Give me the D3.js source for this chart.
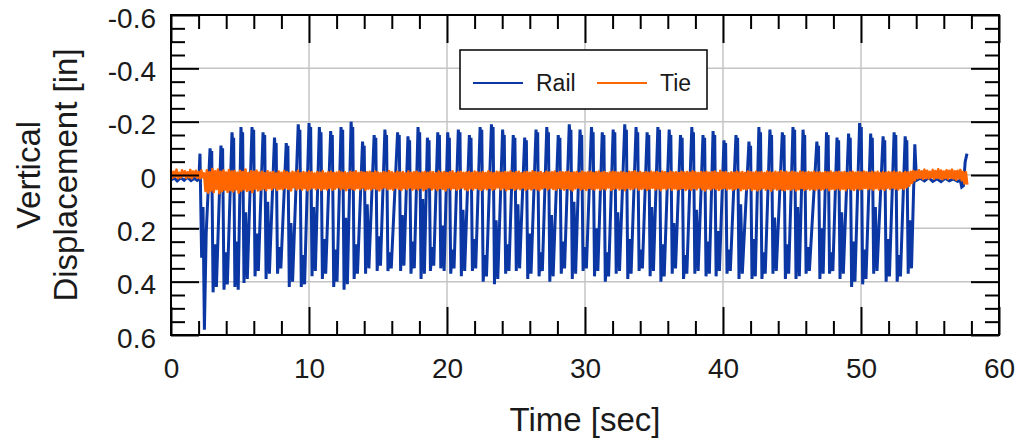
<!DOCTYPE html>
<html>
<head>
<meta charset="utf-8">
<script src="https://cdn.jsdelivr.net/npm/d3@7"></script>
<style>
  html, body { margin: 0; padding: 0; background: #fff; }
  svg { display: block; font-family: "Liberation Sans", Arial, sans-serif; }
</style>
</head>
<body>
<svg id="chart" width="1020" height="444"></svg>
<script>
// Axis ticks and labels
const xMajorTicks = [0, 10, 20, 30, 40, 50, 60];
const xTickLabels = ["0", "10", "20", "30", "40", "50", "60"];
const xMinorTicks = [2, 4, 6, 8, 12, 14, 16, 18, 22, 24, 26, 28, 32, 34, 36, 38, 42, 44, 46, 48, 52, 54, 56, 58];
const yMajorTicks = [-0.6, -0.4, -0.2, 0, 0.2, 0.4, 0.6];
const yTickLabels = ["-0.6", "-0.4", "-0.2", "0", "0.2", "0.4", "0.6"];
const yMinorTicks = [-0.55, -0.5, -0.45, -0.35, -0.3, -0.25, -0.15, -0.1, -0.05, 0.05, 0.1, 0.15, 0.25, 0.3, 0.35, 0.45, 0.5, 0.55];

const seriesNames = ["Rail", "Tie"];

// Rail displacement [in] before the train arrives: [time s, value]
const railLead = [
  [0, 0.018], [0.25, 0.012], [0.45, 0.022], [0.7, 0.01], [0.95, 0.02], [1.2, 0.008],
  [1.45, 0.021], [1.7, 0.012], [1.9, 0.02], [2.02, 0.015], [2.10, -0.08], [2.22, 0.31],
  [2.32, 0.12], [2.42, 0.58], [2.55, 0.22]
];

// Rail displacement per car passage (time s, value pairs):
// uplift peak, shoulder dip, second peak, first trough, rebound, second trough
const railCars = [
  [2.83, -0.10, 2.89, -0.06, 2.95, -0.09, 3.05, 0.44, 3.17, 0.26, 3.29, 0.42],
  [3.62, -0.11, 3.68, -0.07, 3.74, -0.10, 3.84, 0.43, 3.96, 0.29, 4.08, 0.41],
  [4.42, -0.16, 4.48, -0.11, 4.54, -0.14, 4.63, 0.42, 4.75, 0.25, 4.87, 0.43],
  [5.07, -0.18, 5.13, -0.12, 5.19, -0.16, 5.29, 0.405, 5.41, 0.14, 5.53, 0.39],
  [5.87, -0.18, 5.93, -0.13, 5.99, -0.17, 6.09, 0.38, 6.21, 0.22, 6.33, 0.36],
  [6.67, -0.16, 6.73, -0.10, 6.79, -0.15, 6.89, 0.39, 7.01, 0.10, 7.13, 0.37],
  [7.50, -0.14, 7.56, -0.09, 7.62, -0.12, 7.72, 0.37, 7.84, 0.27, 7.96, 0.35],
  [8.35, -0.12, 8.41, -0.08, 8.47, -0.11, 8.57, 0.42, 8.69, 0.18, 8.81, 0.40],
  [9.22, -0.19, 9.28, -0.13, 9.34, -0.17, 9.44, 0.42, 9.56, 0.30, 9.68, 0.41],
  [10.00, -0.195, 10.06, -0.14, 10.12, -0.18, 10.22, 0.38, 10.34, 0.12, 10.46, 0.36],
  [10.75, -0.18, 10.81, -0.12, 10.87, -0.16, 10.97, 0.39, 11.09, 0.24, 11.21, 0.37],
  [11.57, -0.165, 11.63, -0.11, 11.69, -0.15, 11.79, 0.42, 11.91, 0.28, 12.03, 0.40],
  [12.32, -0.18, 12.38, -0.13, 12.44, -0.17, 12.54, 0.43, 12.66, 0.16, 12.78, 0.41],
  [13.05, -0.20, 13.11, -0.14, 13.17, -0.18, 13.27, 0.39, 13.39, 0.26, 13.51, 0.37],
  [13.88, -0.125, 13.94, -0.08, 14.00, -0.11, 14.10, 0.37, 14.22, 0.11, 14.34, 0.35],
  [14.72, -0.15, 14.78, -0.10, 14.84, -0.14, 14.94, 0.36, 15.06, 0.23, 15.18, 0.34],
  [15.50, -0.17, 15.56, -0.12, 15.62, -0.15, 15.72, 0.36, 15.84, 0.29, 15.96, 0.35],
  [16.42, -0.16, 16.48, -0.11, 16.54, -0.15, 16.64, 0.36, 16.76, 0.15, 16.88, 0.34],
  [17.17, -0.145, 17.23, -0.10, 17.29, -0.13, 17.39, 0.37, 17.51, 0.25, 17.63, 0.35],
  [17.90, -0.18, 17.96, -0.12, 18.02, -0.16, 18.12, 0.39, 18.24, 0.09, 18.36, 0.37],
  [18.58, -0.14, 18.64, -0.09, 18.70, -0.13, 18.80, 0.36, 18.92, 0.27, 19.04, 0.34],
  [19.33, -0.16, 19.39, -0.11, 19.45, -0.15, 19.55, 0.35, 19.67, 0.19, 19.79, 0.36],
  [20.05, -0.16, 20.11, -0.11, 20.17, -0.14, 20.27, 0.37, 20.39, 0.28, 20.51, 0.35],
  [20.82, -0.17, 20.88, -0.12, 20.94, -0.16, 21.04, 0.38, 21.16, 0.13, 21.28, 0.36],
  [21.62, -0.15, 21.68, -0.10, 21.74, -0.14, 21.84, 0.36, 21.96, 0.24, 22.08, 0.35],
  [22.40, -0.18, 22.46, -0.13, 22.52, -0.17, 22.62, 0.40, 22.74, 0.30, 22.86, 0.38],
  [23.22, -0.19, 23.28, -0.13, 23.34, -0.18, 23.44, 0.41, 23.56, 0.17, 23.68, 0.39],
  [24.03, -0.17, 24.09, -0.12, 24.15, -0.15, 24.25, 0.37, 24.37, 0.26, 24.49, 0.36],
  [24.80, -0.15, 24.86, -0.10, 24.92, -0.14, 25.02, 0.36, 25.14, 0.11, 25.26, 0.35],
  [25.63, -0.14, 25.69, -0.09, 25.75, -0.13, 25.85, 0.39, 25.97, 0.22, 26.09, 0.37],
  [26.45, -0.17, 26.51, -0.12, 26.57, -0.16, 26.67, 0.38, 26.79, 0.29, 26.91, 0.36],
  [27.23, -0.18, 27.29, -0.13, 27.35, -0.16, 27.45, 0.40, 27.57, 0.15, 27.69, 0.38],
  [28.06, -0.15, 28.12, -0.10, 28.18, -0.14, 28.28, 0.37, 28.40, 0.25, 28.52, 0.35],
  [28.86, -0.19, 28.92, -0.14, 28.98, -0.17, 29.08, 0.39, 29.20, 0.10, 29.32, 0.37],
  [29.64, -0.17, 29.70, -0.11, 29.76, -0.15, 29.86, 0.36, 29.98, 0.27, 30.10, 0.35],
  [30.47, -0.18, 30.53, -0.13, 30.59, -0.16, 30.69, 0.38, 30.81, 0.20, 30.93, 0.36],
  [31.25, -0.16, 31.31, -0.11, 31.37, -0.15, 31.47, 0.40, 31.59, 0.29, 31.71, 0.38],
  [32.04, -0.17, 32.10, -0.12, 32.16, -0.16, 32.26, 0.37, 32.38, 0.14, 32.50, 0.36],
  [32.88, -0.19, 32.94, -0.13, 33.00, -0.17, 33.10, 0.39, 33.22, 0.24, 33.34, 0.37],
  [33.70, -0.18, 33.76, -0.12, 33.82, -0.16, 33.92, 0.36, 34.04, 0.28, 34.16, 0.35],
  [34.50, -0.16, 34.56, -0.11, 34.62, -0.15, 34.72, 0.38, 34.84, 0.12, 34.96, 0.36],
  [35.28, -0.18, 35.34, -0.13, 35.40, -0.17, 35.50, 0.40, 35.62, 0.26, 35.74, 0.38],
  [36.10, -0.17, 36.16, -0.11, 36.22, -0.15, 36.32, 0.37, 36.44, 0.18, 36.56, 0.35],
  [36.92, -0.15, 36.98, -0.10, 37.04, -0.14, 37.14, 0.39, 37.26, 0.30, 37.38, 0.37],
  [37.74, -0.18, 37.80, -0.12, 37.86, -0.16, 37.96, 0.37, 38.08, 0.13, 38.20, 0.36],
  [38.55, -0.15, 38.61, -0.10, 38.67, -0.14, 38.77, 0.38, 38.89, 0.25, 39.01, 0.37],
  [39.28, -0.165, 39.34, -0.11, 39.40, -0.15, 39.50, 0.38, 39.62, 0.21, 39.74, 0.36],
  [40.07, -0.13, 40.13, -0.09, 40.19, -0.12, 40.29, 0.37, 40.41, 0.28, 40.53, 0.36],
  [40.94, -0.15, 41.00, -0.10, 41.06, -0.14, 41.16, 0.39, 41.28, 0.11, 41.40, 0.37],
  [41.88, -0.125, 41.94, -0.08, 42.00, -0.11, 42.10, 0.39, 42.22, 0.24, 42.34, 0.38],
  [42.60, -0.18, 42.66, -0.12, 42.72, -0.16, 42.82, 0.39, 42.94, 0.29, 43.06, 0.37],
  [43.40, -0.17, 43.46, -0.11, 43.52, -0.15, 43.62, 0.37, 43.74, 0.16, 43.86, 0.36],
  [44.30, -0.16, 44.36, -0.11, 44.42, -0.15, 44.52, 0.39, 44.64, 0.26, 44.76, 0.37],
  [45.07, -0.18, 45.13, -0.13, 45.19, -0.17, 45.29, 0.39, 45.41, 0.12, 45.53, 0.38],
  [45.80, -0.17, 45.86, -0.12, 45.92, -0.15, 46.02, 0.37, 46.14, 0.27, 46.26, 0.36],
  [46.80, -0.125, 46.86, -0.08, 46.92, -0.11, 47.02, 0.39, 47.14, 0.20, 47.26, 0.37],
  [47.50, -0.16, 47.56, -0.11, 47.62, -0.15, 47.72, 0.37, 47.84, 0.29, 47.96, 0.36],
  [48.26, -0.14, 48.32, -0.09, 48.38, -0.13, 48.48, 0.39, 48.60, 0.14, 48.72, 0.37],
  [49.10, -0.155, 49.16, -0.10, 49.22, -0.14, 49.32, 0.42, 49.44, 0.25, 49.56, 0.40],
  [49.90, -0.195, 49.96, -0.14, 50.02, -0.18, 50.12, 0.41, 50.24, 0.28, 50.36, 0.39],
  [50.70, -0.155, 50.76, -0.10, 50.82, -0.14, 50.92, 0.37, 51.04, 0.12, 51.16, 0.36],
  [51.60, -0.145, 51.66, -0.10, 51.72, -0.13, 51.82, 0.40, 51.94, 0.24, 52.06, 0.38],
  [52.40, -0.16, 52.46, -0.11, 52.52, -0.15, 52.62, 0.40, 52.74, 0.30, 52.86, 0.38],
  [53.20, -0.145, 53.26, -0.10, 53.32, -0.13, 53.42, 0.37, 53.54, 0.17, 53.66, 0.35]
];

// Rail displacement after the last car: [time s, value]
const railTail = [
  [53.90, -0.115], [54.02, 0.02], [54.3, 0.012], [54.6, 0.022], [54.9, 0.01], [55.2, 0.024],
  [55.5, 0.014], [55.8, 0.025], [56.1, 0.012], [56.4, 0.022], [56.7, 0.015], [57.0, 0.024],
  [57.2, 0.02], [57.3, 0.045], [57.42, 0.04], [57.55, -0.05], [57.68, -0.08]
];

// Tie displacement [in], logged every 0.1 s from t = 0
const tieStep = 0.1;
const tieValues = [
  -0.016, 0.010, -0.012, 0.006, -0.020, 0.012, -0.008, 0.009, -0.018, 0.004, -0.014, 0.011, -0.010, 0.008, -0.019, 0.012, -0.013, 0.005, -0.016, 0.010, -0.011, 0.012, -0.017, 0.008, -0.006,
  0.060, -0.018, 0.066, -0.010, 0.058, -0.022, 0.064, -0.014, 0.052, -0.020, 0.068, -0.012, 0.061, -0.017, 0.055, -0.009, 0.063, -0.019, 0.057, -0.013,
  0.062, -0.015, 0.054, -0.008, 0.066, -0.016, 0.059, -0.011, 0.053, -0.020, 0.060, -0.007, 0.056, -0.014, 0.064, -0.012, 0.051, -0.016, 0.058, -0.009,
  0.055, -0.012, 0.050, -0.006, 0.057, -0.014, 0.049, -0.009, 0.054, -0.011, 0.047, -0.005, 0.056, -0.013, 0.051, -0.008, 0.053, -0.015, 0.048, -0.010,
  0.052, -0.007, 0.058, -0.012, 0.046, -0.009, 0.054, -0.016, 0.050, -0.006, 0.055, -0.011, 0.049, -0.008, 0.057, -0.013, 0.051, -0.010, 0.047, -0.005,
  0.053, -0.011, 0.049, -0.008, 0.056, -0.014, 0.050, -0.006, 0.054, -0.010, 0.048, -0.012, 0.055, -0.007, 0.051, -0.009, 0.046, -0.013, 0.053, -0.008,
  0.050, -0.010, 0.057, -0.006, 0.048, -0.012, 0.052, -0.009, 0.055, -0.014, 0.049, -0.007, 0.053, -0.011, 0.047, -0.008, 0.056, -0.010, 0.051, -0.012,
  0.054, -0.007, 0.049, -0.013, 0.052, -0.009, 0.058, -0.006, 0.050, -0.011, 0.046, -0.008, 0.053, -0.015, 0.051, -0.010, 0.055, -0.007, 0.048, -0.012,
  0.052, -0.009, 0.056, -0.011, 0.049, -0.006, 0.053, -0.013, 0.047, -0.008, 0.055, -0.010, 0.050, -0.012, 0.054, -0.007, 0.048, -0.009, 0.057, -0.011,
  0.051, -0.008, 0.046, -0.012, 0.054, -0.010, 0.050, -0.006, 0.056, -0.013, 0.049, -0.009, 0.052, -0.011, 0.058, -0.007, 0.047, -0.010, 0.053, -0.014,
  0.049, -0.006, 0.055, -0.010, 0.051, -0.012, 0.047, -0.008, 0.053, -0.009, 0.057, -0.011, 0.050, -0.007, 0.054, -0.013, 0.048, -0.010, 0.052, -0.008,
  0.056, -0.011, 0.050, -0.007, 0.053, -0.014, 0.048, -0.009, 0.055, -0.006, 0.051, -0.012, 0.046, -0.010, 0.054, -0.008, 0.049, -0.011, 0.057, -0.009,
  0.052, -0.013, 0.048, -0.007, 0.055, -0.010, 0.050, -0.012, 0.053, -0.006, 0.047, -0.009, 0.056, -0.011, 0.051, -0.008, 0.054, -0.014, 0.049, -0.010,
  0.053, -0.008, 0.057, -0.011, 0.050, -0.006, 0.046, -0.012, 0.054, -0.009, 0.049, -0.010, 0.052, -0.013, 0.055, -0.007, 0.048, -0.011, 0.051, -0.009,
  0.055, -0.010, 0.049, -0.012, 0.053, -0.007, 0.058, -0.009, 0.050, -0.011, 0.047, -0.006, 0.054, -0.013, 0.051, -0.008, 0.056, -0.010, 0.048, -0.012,
  0.052, -0.007, 0.054, -0.010, 0.049, -0.013, 0.055, -0.008, 0.050, -0.011, 0.053, -0.006, 0.047, -0.009, 0.056, -0.012, 0.051, -0.010, 0.049, -0.008,
  0.054, -0.011, 0.050, -0.009, 0.057, -0.006, 0.048, -0.012, 0.053, -0.010, 0.051, -0.014, 0.046, -0.008, 0.055, -0.011, 0.052, -0.007, 0.049, -0.010,
  0.056, -0.008, 0.051, -0.012, 0.048, -0.009, 0.054, -0.011, 0.050, -0.007, 0.057, -0.013, 0.049, -0.010, 0.053, -0.006, 0.047, -0.012, 0.055, -0.009,
  0.050, -0.010, 0.054, -0.007, 0.052, -0.012, 0.048, -0.009, 0.056, -0.011, 0.051, -0.008, 0.055, -0.014, 0.049, -0.010, 0.053, -0.007, 0.047, -0.011,
  0.053, -0.009, 0.058, -0.012, 0.050, -0.008, 0.054, -0.010, 0.049, -0.013, 0.052, -0.007, 0.056, -0.016, 0.051, -0.009, 0.048, -0.011, 0.054, -0.006,
  0.050, -0.010, 0.055, -0.008, 0.052, -0.012, 0.047, -0.009, 0.057, -0.011, 0.051, -0.007, 0.054, -0.013, 0.049, -0.010, 0.056, -0.008, 0.052, -0.012,
  0.058, -0.009, 0.053, -0.011, 0.049, -0.007, 0.055, -0.013, 0.051, -0.010, 0.059, -0.008, 0.050, -0.012, 0.054, -0.009, 0.052, -0.014, 0.056, -0.010,
  0.057, -0.011, 0.052, -0.008, 0.055, -0.012, 0.050, -0.009, 0.058, -0.007, 0.053, -0.013, 0.049, -0.010, 0.056, -0.008, 0.051, -0.011, 0.054, -0.009,
  0.052, -0.012, 0.056, -0.008, 0.050, -0.010, 0.055, -0.007, 0.053, -0.011, 0.048, -0.009, 0.057, -0.013, 0.051, -0.008, 0.054, -0.010, 0.050, -0.012,
  0.055, -0.009, 0.051, -0.011, 0.057, -0.007, 0.049, -0.010, 0.053, -0.012, 0.056, -0.008, 0.050, -0.011, 0.054, -0.009, 0.052, -0.013, 0.048, -0.010,
  0.053, -0.008, 0.050, -0.011, 0.055, -0.009, 0.049, -0.012, 0.054, -0.007, 0.051, -0.010, 0.056, -0.008, 0.048, -0.011, 0.052, -0.009, 0.047, -0.012,
  0.051, -0.008, 0.054, -0.010, 0.049, -0.007, 0.052, -0.011, 0.046, -0.009, 0.040, -0.012, 0.030, -0.015, 0.020, -0.012,
  0.012, -0.018, 0.010, -0.014, 0.015, -0.020, 0.011, -0.016, 0.013, -0.012, 0.009, -0.019, 0.014, -0.015, 0.010, -0.021, 0.012, -0.017, 0.016, -0.013,
  0.011, -0.018, 0.014, -0.016, 0.010, -0.020, 0.013, -0.014, 0.018, -0.016, 0.012, -0.019, 0.020, -0.012, 0.032, -0.010, 0.036
];

const railColor = "#0a37a3";
const tieColor = "#ff6600";

// Layout
const plot = { left: 171, right: 999, top: 15, bottom: 335 };

const svg = d3.select("#chart");

const x = d3.scaleLinear().domain([0, 60]).range([plot.left, plot.right]);
const y = d3.scaleLinear().domain([-0.6, 0.6]).range([plot.top, plot.bottom]);

// Assemble series points
const railPoints = railLead
  .concat(railCars.flatMap(r => d3.range(0, r.length, 2).map(i => [r[i], r[i + 1]])))
  .concat(railTail);
const tiePoints = tieValues.map((v, i) => [i * tieStep, v]);

// Gridlines at interior major ticks
const grid = svg.append("g").attr("stroke", "#c4c4c4").attr("stroke-width", 1.5);
grid.selectAll("line.gx").data(xMajorTicks.slice(1, -1)).join("line")
  .attr("x1", d => x(d)).attr("x2", d => x(d))
  .attr("y1", plot.top).attr("y2", plot.bottom);
grid.selectAll("line.gy").data(yMajorTicks.slice(1, -1)).join("line")
  .attr("x1", plot.left).attr("x2", plot.right)
  .attr("y1", d => y(d)).attr("y2", d => y(d));

// Data lines
const line = d3.line().x(d => x(d[0])).y(d => y(d[1]));
svg.append("path").datum(railPoints)
  .attr("d", line).attr("fill", "none")
  .attr("stroke", railColor).attr("stroke-width", 3)
  .attr("stroke-linejoin", "miter").attr("stroke-miterlimit", 2);
svg.append("path").datum(tiePoints)
  .attr("d", line).attr("fill", "none")
  .attr("stroke", tieColor).attr("stroke-width", 2.6)
  .attr("stroke-linejoin", "round");

// Axes with inward ticks on all four sides
const MAJ = 28, MIN = 14;
function styleAxis(g) {
  g.select(".domain").remove();
  g.selectAll(".tick line").attr("stroke", "#000").attr("stroke-width", 2);
  g.selectAll("text").attr("fill", "#1a1a1a").style("font-size", "28px")
    .style("font-family", "'Liberation Sans', Arial, sans-serif");
}

const fmtX = d => xTickLabels[xMajorTicks.indexOf(d)];
const fmtY = d => yTickLabels[yMajorTicks.indexOf(d)];

svg.append("g").attr("transform", `translate(0,${plot.bottom})`)
  .call(d3.axisBottom(x).tickValues(xMajorTicks).tickSizeInner(-MAJ).tickSizeOuter(0).tickPadding(23).tickFormat(fmtX))
  .call(styleAxis);
svg.append("g").attr("transform", `translate(0,${plot.bottom})`)
  .call(d3.axisBottom(x).tickValues(xMinorTicks).tickSizeInner(-MIN).tickSizeOuter(0).tickFormat(""))
  .call(styleAxis);
svg.append("g").attr("transform", `translate(0,${plot.top})`)
  .call(d3.axisTop(x).tickValues(xMajorTicks).tickSizeInner(-MAJ).tickSizeOuter(0).tickFormat(""))
  .call(styleAxis);
svg.append("g").attr("transform", `translate(0,${plot.top})`)
  .call(d3.axisTop(x).tickValues(xMinorTicks).tickSizeInner(-MIN).tickSizeOuter(0).tickFormat(""))
  .call(styleAxis);

const leftAxis = svg.append("g").attr("transform", `translate(${plot.left},0)`)
  .call(d3.axisLeft(y).tickValues(yMajorTicks).tickSizeInner(-MAJ).tickSizeOuter(0).tickPadding(15).tickFormat(fmtY))
  .call(styleAxis);
leftAxis.selectAll("text").attr("dy", "0.43em");
svg.append("g").attr("transform", `translate(${plot.left},0)`)
  .call(d3.axisLeft(y).tickValues(yMinorTicks).tickSizeInner(-MIN).tickSizeOuter(0).tickFormat(""))
  .call(styleAxis);
svg.append("g").attr("transform", `translate(${plot.right},0)`)
  .call(d3.axisRight(y).tickValues(yMajorTicks).tickSizeInner(-MAJ).tickSizeOuter(0).tickFormat(""))
  .call(styleAxis);
svg.append("g").attr("transform", `translate(${plot.right},0)`)
  .call(d3.axisRight(y).tickValues(yMinorTicks).tickSizeInner(-MIN).tickSizeOuter(0).tickFormat(""))
  .call(styleAxis);

// Plot frame
svg.append("rect")
  .attr("x", plot.left).attr("y", plot.top)
  .attr("width", plot.right - plot.left).attr("height", plot.bottom - plot.top)
  .attr("fill", "none").attr("stroke", "#000").attr("stroke-width", 2);

// Axis titles
svg.append("text")
  .attr("x", 585).attr("y", 431)
  .attr("text-anchor", "middle")
  .attr("fill", "#1a1a1a").style("font-size", "33px")
  .text("Time [sec]");

const yTitle = svg.append("text")
  .attr("transform", "translate(0,175) rotate(-90)")
  .attr("text-anchor", "middle")
  .attr("fill", "#1a1a1a").style("font-size", "33px");
yTitle.append("tspan").attr("x", 0).attr("y", 40).text("Vertical");
yTitle.append("tspan").attr("x", 0).attr("y", 77).text("Displacement [in]");

// Legend
const legend = svg.append("g");
legend.append("rect")
  .attr("x", 460).attr("y", 50).attr("width", 247).attr("height", 59)
  .attr("fill", "#fff").attr("stroke", "#000").attr("stroke-width", 1.5);
const legendItems = [
  { name: seriesNames[0], color: railColor, x0: 473 },
  { name: seriesNames[1], color: tieColor, x0: 597 }
];
legendItems.forEach(it => {
  legend.append("line")
    .attr("x1", it.x0).attr("x2", it.x0 + 50)
    .attr("y1", 83).attr("y2", 83)
    .attr("stroke", it.color).attr("stroke-width", 2.2);
  legend.append("text")
    .attr("x", it.x0 + 63).attr("y", 91)
    .attr("fill", "#1a1a1a").style("font-size", "23px")
    .text(it.name);
});
</script>
</body>
</html>
